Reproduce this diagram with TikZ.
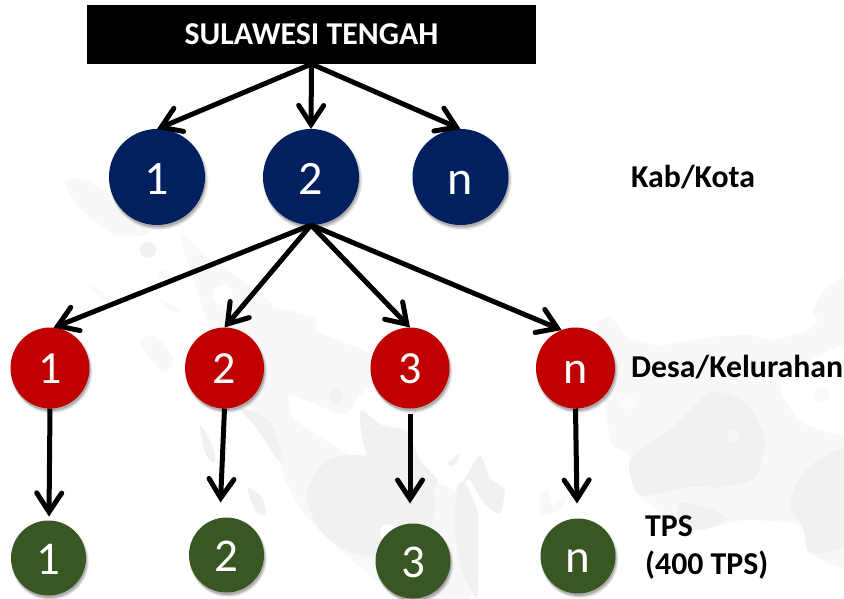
\documentclass[tikz,border=0pt]{standalone}
\usepackage{fontspec}
\setmainfont{Carlito}
\usetikzlibrary{arrows.meta,shadows,shapes.geometric}
\definecolor{navyc}{HTML}{002060}
\definecolor{redc}{HTML}{C00000}
\definecolor{greenc}{HTML}{385723}
\definecolor{wml}{HTML}{F8F8F8}
\definecolor{wmd}{HTML}{F1F1F1}
\tikzset{
  softshadow/.style={
    general shadow={fill=black,opacity=.05,shadow scale=1.04,shadow xshift=1.5pt,shadow yshift=-3pt},
    general shadow={fill=black,opacity=.10,shadow scale=1.02,shadow xshift=1.5pt,shadow yshift=-3pt},
    general shadow={fill=black,opacity=.20,shadow scale=1.0,shadow xshift=1pt,shadow yshift=-2.5pt}},
  dot/.style={ellipse,inner sep=0pt,outer sep=0pt,text=white,text depth=0pt,softshadow},
  kab/.style={dot,fill=navyc,minimum width=96pt,minimum height=96pt,text height=34pt,font=\fontsize{48}{54}\selectfont},
  desa/.style={dot,fill=redc,minimum width=79pt,minimum height=81pt,text height=31pt,font=\fontsize{46}{52}\selectfont},
  tps/.style={dot,fill=greenc,minimum width=75pt,minimum height=75pt,text height=33pt,font=\fontsize{47}{52}\selectfont},
  lvl/.style={anchor=west,inner sep=0pt,font=\fontsize{31.8}{38}\selectfont\bfseries,align=left},
  link/.style={-{Straight Barb[line cap=round,line join=miter,length=19pt,width=25pt,line width=5pt]},line width=5pt,black},
}
\begin{document}
\begin{tikzpicture}[x=1pt,y=-1pt]
\useasboundingbox (0,0) rectangle (844,598);
\begin{scope}
\clip (0,0) rectangle (844,598);
% watermark map
\fill[wml] plot[smooth cycle,tension=.55] coordinates {(65,183)(77,178)(92,183)(112,197)(130,215)(150,233)(118,236)(100,225)(80,208)};
\fill[wml] plot[smooth cycle,tension=.4] coordinates {(180,233)(205,255)(240,278)(272,305)(262,318)(235,308)(212,330)(195,285)};
\fill[white] (223,295) circle (10);
\fill[wmd] (148,250) circle (8);
\fill[wml] (163,275) circle (5);
\fill[wml] plot[smooth cycle] coordinates {(90,287)(100,290)(113,303)(103,300)};
\fill[wml] plot[smooth cycle] coordinates {(160,300)(172,305)(180,313)(168,310)};
\fill[wml] plot[smooth cycle,tension=.5] coordinates {(140,340)(155,336)(173,358)(165,373)(150,358)};
\fill[wml] plot[smooth cycle,tension=.3] coordinates {(210,325)(245,320)(272,307)(315,318)(318,332)(368,352)(385,375)(360,395)(345,415)(290,395)(295,420)(350,455)(400,470)(470,500)(470,598)(400,598)(335,545)(305,515)(285,480)(270,430)(240,395)};
\fill[wmd] plot[smooth cycle,tension=.5] coordinates {(240,408)(268,420)(281,450)(278,460)(258,430)};
\fill[wmd] plot[smooth cycle,tension=.5] coordinates {(200,425)(212,445)(215,462)(206,455)};
\fill[wmd] plot[smooth cycle,tension=.5] coordinates {(248,488)(262,498)(266,515)(255,510)};
\fill[wmd] plot[smooth cycle,tension=.6] coordinates {(360,412)(382,425)(407,432)(420,460)(437,480)(428,495)(410,500)(385,485)(368,460)};
\fill[wmd] plot[smooth cycle,tension=.5] coordinates {(307,495)(322,465)(345,455)(380,458)(410,470)(433,490)(433,520)(420,540)(380,555)(350,552)(320,530)};
\fill[white] (389,533) circle (9);
\fill[wmd] (336,395) circle (7);
\fill[wmd] plot[smooth cycle,tension=.2] coordinates {(447,464)(460,453)(458,462)(452,466)};
\fill[wmd] plot[smooth cycle,tension=.25] coordinates {(463,482)(480,455)(490,478)(505,490)(500,514)(485,505)(470,480)};
\fill[wmd] plot[smooth cycle,tension=.3] coordinates {(457,487)(465,482)(478,515)(477,598)(462,570)(455,530)};
\fill[wml] plot[smooth cycle,tension=.4] coordinates {(540,495)(548,490)(552,505)(567,495)(560,510)(541,515)};
% right part
\fill[wml] plot[smooth cycle,tension=.3] coordinates {(597,327)(612,317)(628,338)(660,345)(710,337)(750,335)(773,340)(807,330)(817,320)(813,310)(827,287)(860,285)(860,560)(810,553)(800,525)(745,520)(700,530)(680,528)(640,495)(630,455)(610,440)};
\fill[white] plot[smooth cycle,tension=.55] coordinates {(780,383)(800,365)(860,345)(860,420)(845,435)(800,420)};
\fill[wml] (822,395) circle (7);
\fill[white] plot[smooth cycle,tension=.4] coordinates {(600,480)(620,460)(640,500)(635,540)(600,540)};
\fill[wmd] plot[smooth cycle,tension=.45] coordinates {(630,460)(670,430)(710,393)(745,402)(765,440)(755,477)(725,487)(690,487)(640,495)};
\fill[wml] (733,436) circle (6);
\fill[white!50!wml] (628,403) circle (7);
\fill[wmd] plot[smooth cycle,tension=.45] coordinates {(790,505)(805,470)(850,450)(850,540)(810,553)(803,527)};
\fill[wmd] plot[smooth cycle,tension=.45] coordinates {(680,503)(710,508)(727,520)(700,530)(680,525)};
\end{scope}
% nodes
\node[fill=black,text=white,minimum width=449pt,minimum height=59pt,inner sep=0pt,outer sep=0pt,font=\fontsize{31.8}{38}\selectfont\bfseries] (top) at (311.5,34.5) {SULAWESI TENGAH};
\node[kab] (b1) at (157,177) {1};
\node[kab] (b2) at (311,177) {2};
\node[kab] (bn) at (460.5,177) {n};
\node[desa] (r1) at (50,368) {1};
\node[desa] (r2) at (224.5,368) {2};
\node[desa] (r3) at (410,368) {3};
\node[desa] (rn) at (575.5,368) {n};
\node[tps] (g1) at (48.5,558) {1};
\node[tps] (g2) at (226.5,555) {2};
\node[tps] (g3) at (413,561) {3};
\node[tps] (gn) at (578,556) {n};
\node[lvl] (lk) at (631,177) {Kab/Kota};
\node[lvl] (ld) at (631,367) {Desa/Kelurahan};
\node[lvl] (lt) at (645,547) {TPS\\(400 TPS)};
% connectors
\draw[link] (top.south) -- (b1.north);
\draw[link] (top.south) -- (b2.north);
\draw[link] (top.south) -- (bn.north);
\draw[link] (b2.south) -- (r1.85);
\draw[link] (b2.south) -- (r2.north);
\draw[link] (b2.south) -- (r3.north);
\draw[link] (b2.south) -- (rn.110);
\draw[link] (r1.south) -- ([shift={(0.5,-4)}]g1.north);
\draw[link] (r2.south) -- ([shift={(-6,-15)}]g2.north);
\draw[link] ([yshift=-5pt]r3.south) -- ([shift={(-3,-20)}]g3.north);
\draw[link] (rn.south) -- ([shift={(-1,-15)}]gn.north);
\end{tikzpicture}
\end{document}
